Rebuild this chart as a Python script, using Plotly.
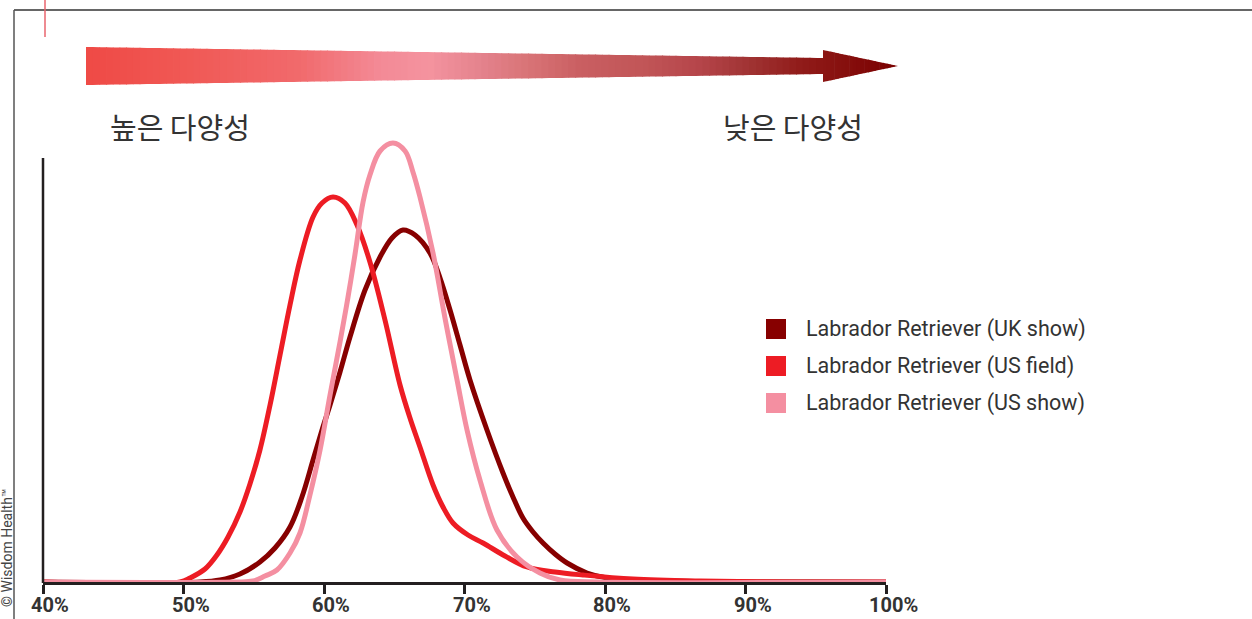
import plotly.graph_objects as go

# ---------------- data ----------------
series_names = ["Labrador Retriever (UK show)",
                "Labrador Retriever (US field)",
                "Labrador Retriever (US show)"]
series_colors = ["#870000", "#ED1C24", "#F48FA1"]

uk_show_x = [40.0, 51.17, 52.60, 54.02, 55.44, 56.51, 57.58, 58.43, 59.22, 59.86, 60.43,
             61.14, 61.85, 62.92, 63.99, 64.84, 65.62, 66.48, 67.54, 68.26, 68.97, 69.68,
             70.39, 71.60, 72.74, 73.45, 74.16, 74.88, 75.59, 76.44, 77.30, 78.72, 80.14,
             81.99, 86.76, 93.88, 100.0]
uk_show_y = [0.0, 0.0, 0.02, 0.08, 0.20, 0.34, 0.55, 0.85, 1.22, 1.52, 1.77,
             2.10, 2.45, 2.92, 3.25, 3.44, 3.52, 3.47, 3.29, 3.04, 2.72, 2.37,
             2.02, 1.52, 1.09, 0.85, 0.64, 0.50, 0.39, 0.28, 0.19, 0.09, 0.04,
             0.02, 0.005, 0.0, 0.0]

us_field_x = [40.0, 49.75, 50.46, 51.53, 52.38, 53.17, 54.02, 54.73, 55.44, 56.16, 56.87,
              57.58, 58.29, 59.22, 59.86, 60.64, 61.49, 62.35, 63.27, 64.34, 65.41, 66.12,
              66.83, 67.76, 68.47, 69.18, 70.25, 71.32, 72.88, 74.45, 76.44, 78.43, 81.99,
              86.76, 93.88, 100.0]
us_field_y = [0.0, 0.0, 0.04, 0.13, 0.27, 0.45, 0.70, 0.98, 1.32, 1.77, 2.27,
              2.77, 3.22, 3.65, 3.79, 3.85, 3.79, 3.57, 3.20, 2.62, 1.97, 1.64,
              1.35, 0.97, 0.75, 0.59, 0.47, 0.39, 0.26, 0.15, 0.10, 0.07, 0.03,
              0.01, 0.0, 0.0]

us_show_x = [40.0, 53.67, 54.95, 55.80, 56.65, 57.58, 58.29, 59.00, 59.72, 60.43, 61.14,
             61.71, 62.21, 62.78, 63.27, 63.99, 64.91, 65.77, 66.33, 66.83, 67.76, 68.61,
             69.47, 70.18, 71.10, 72.31, 73.74, 75.37, 76.80, 79.64, 100.0]
us_show_y = [0.0, 0.0, 0.01, 0.06, 0.12, 0.29, 0.49, 0.87, 1.32, 1.87, 2.40,
             2.85, 3.28, 3.80, 4.07, 4.31, 4.39, 4.31, 4.10, 3.85, 3.29, 2.64,
             2.02, 1.52, 1.02, 0.52, 0.25, 0.09, 0.02, 0.0, 0.0]

tick_vals = [40, 50, 60, 70, 80, 90, 100]
tick_text = ["40%", "50%", "60%", "70%", "80%", "90%", "100%"]

label_high = "높은 다양성"
label_low = "낮은 다양성"
copyright_text = "© Wisdom Health™"

# ---------------- layout geometry (pixels) ----------------
W, H = 1252, 619
PL, PR, PT, PB = 43, 886, 100, 582


def fx(px):
    return (px - PL) / (PR - PL)


def fy(py):
    return (PB - py) / (PB - PT)


fig = go.Figure()
for xs, ys, name, col in [(uk_show_x, uk_show_y, series_names[0], series_colors[0]),
                          (us_field_x, us_field_y, series_names[1], series_colors[1]),
                          (us_show_x, us_show_y, series_names[2], series_colors[2])]:
    fig.add_trace(go.Scatter(x=xs, y=ys, mode="lines", name=name,
                             line=dict(color=col, width=5, shape="spline", smoothing=1.0),
                             showlegend=False, hoverinfo="skip"))

shapes = []
annotations = []

# frame lines
shapes.append(dict(type="line", xref="paper", yref="paper", x0=fx(14), x1=fx(1252),
                   y0=fy(10), y1=fy(10), line=dict(color="#333333", width=1.5)))
shapes.append(dict(type="line", xref="paper", yref="paper", x0=fx(14), x1=fx(14),
                   y0=fy(10), y1=fy(619), line=dict(color="#555555", width=1.5)))
shapes.append(dict(type="line", xref="paper", yref="paper", x0=fx(45), x1=fx(45),
                   y0=fy(0), y1=fy(37), line=dict(color="#E8646E", width=1.5)))
# y axis line
shapes.append(dict(type="line", xref="paper", yref="paper", x0=0, x1=0,
                   y0=fy(158), y1=fy(583), line=dict(color="#231F20", width=2.5)))

# gradient arrow
stops = [(86, "#EF4A45"), (200, "#F05A57"), (300, "#F16A6C"), (380, "#F38A96"),
         (430, "#F4939F"), (480, "#E4838D"), (530, "#D87376"), (580, "#CA5F62"),
         (650, "#C05456"), (700, "#B5454A"), (750, "#A03333"), (800, "#911C1A"),
         (850, "#850E0C"), (898, "#7A0000")]


def hex2rgb(h):
    h = h.lstrip("#")
    return tuple(int(h[i:i + 2], 16) for i in (0, 2, 4))


def color_at(px):
    for (a, ca), (b, cb) in zip(stops[:-1], stops[1:]):
        if a <= px <= b:
            t = (px - a) / (b - a)
            r1, g1, b1 = hex2rgb(ca)
            r2, g2, b2 = hex2rgb(cb)
            return "rgb(%d,%d,%d)" % (round(r1 + (r2 - r1) * t), round(g1 + (g2 - g1) * t),
                                      round(b1 + (b2 - b1) * t))
    return stops[-1][1] if px > stops[-1][0] else stops[0][1]


SX0, SX1 = 86, 823
TOP0, TOP1, BOT0, BOT1 = 47, 58, 85, 74
HEAD_T, HEAD_B, TIP_X, TIP_Y = 50, 82, 898, 66


def shaft_top(px):
    return TOP0 + (TOP1 - TOP0) * (px - SX0) / (SX1 - SX0)


def shaft_bot(px):
    return BOT0 + (BOT1 - BOT0) * (px - SX0) / (SX1 - SX0)


def head_top(px):
    return HEAD_T + (TIP_Y - HEAD_T) * (px - SX1) / (TIP_X - SX1)


def head_bot(px):
    return HEAD_B + (TIP_Y - HEAD_B) * (px - SX1) / (TIP_X - SX1)


def poly(pts):
    return "M " + " L ".join("%.5f,%.5f" % (fx(a), fy(b)) for a, b in pts) + " Z"


n = 110
step = (SX1 - SX0) / n
for i in range(n):
    a = SX0 + i * step
    b = min(SX0 + (i + 1) * step + 0.8, SX1)
    shapes.append(dict(type="path", xref="paper", yref="paper",
                       path=poly([(a, shaft_top(a)), (b, shaft_top(b)), (b, shaft_bot(b)), (a, shaft_bot(a))]),
                       fillcolor=color_at((a + b) / 2), line=dict(width=0)))
nh = 20
hs = (TIP_X - SX1) / nh
for i in range(nh):
    a = SX1 + i * hs
    b = min(SX1 + (i + 1) * hs + 0.6, TIP_X)
    shapes.append(dict(type="path", xref="paper", yref="paper",
                       path=poly([(a, head_top(a)), (b, head_top(b)), (b, head_bot(b)), (a, head_bot(a))]),
                       fillcolor=color_at((a + b) / 2), line=dict(width=0)))

# Korean labels
annotations.append(dict(text=label_high, xref="paper", yref="paper", x=fx(108), y=fy(126),
                        xanchor="left", yanchor="middle", showarrow=False,
                        font=dict(family="Noto Sans CJK KR", size=29, color="#333333")))
annotations.append(dict(text=label_low, xref="paper", yref="paper", x=fx(721), y=fy(126),
                        xanchor="left", yanchor="middle", showarrow=False,
                        font=dict(family="Noto Sans CJK KR", size=29, color="#333333")))

# legend (squares + text)
leg_y = [329, 366, 403]
for name, col, yy in zip(series_names, series_colors, leg_y):
    shapes.append(dict(type="rect", xref="paper", yref="paper", x0=fx(766), x1=fx(786),
                       y0=fy(yy - 10), y1=fy(yy + 10), fillcolor=col, line=dict(width=0)))
    annotations.append(dict(text=name, xref="paper", yref="paper", x=fx(804), y=fy(yy),
                            xanchor="left", yanchor="middle", showarrow=False,
                            font=dict(family="Roboto", size=21.5, color="#333333")))

# x tick labels (placed on the x axis scale)
for tv, tt in zip(tick_vals, tick_text):
    annotations.append(dict(text=tt, xref="x", yref="paper", x=tv, y=fy(605), xshift=7,
                            xanchor="center", yanchor="middle", showarrow=False,
                            font=dict(family="Roboto", size=20, color="#333333", weight="bold")))

# copyright
annotations.append(dict(text=copyright_text, xref="paper", yref="paper", x=fx(7), y=fy(548),
                        xanchor="center", yanchor="middle", textangle=-90, showarrow=False,
                        font=dict(family="Roboto", size=14, color="#444444")))

fig.update_layout(
    width=W, height=H, autosize=False,
    margin=dict(l=PL, r=W - PR, t=PT, b=H - PB, pad=0),
    paper_bgcolor="white", plot_bgcolor="white",
    shapes=shapes, annotations=annotations,
    xaxis=dict(range=[40, 100], showgrid=False, zeroline=False, showline=True,
               linecolor="#231F20", linewidth=2.5, ticks="outside", ticklen=9,
               tickwidth=2.5, tickcolor="#231F20", tickvals=tick_vals,
               showticklabels=False, automargin=False, fixedrange=True),
    yaxis=dict(range=[0, 4.82], showgrid=False, zeroline=False, showline=False,
               showticklabels=False, ticks="", automargin=False, fixedrange=True),
    showlegend=False,
)

fig.write_html("out.html", config={"displayModeBar": False},
               post_script="document.body.style.margin='0';document.body.style.padding='0';")
